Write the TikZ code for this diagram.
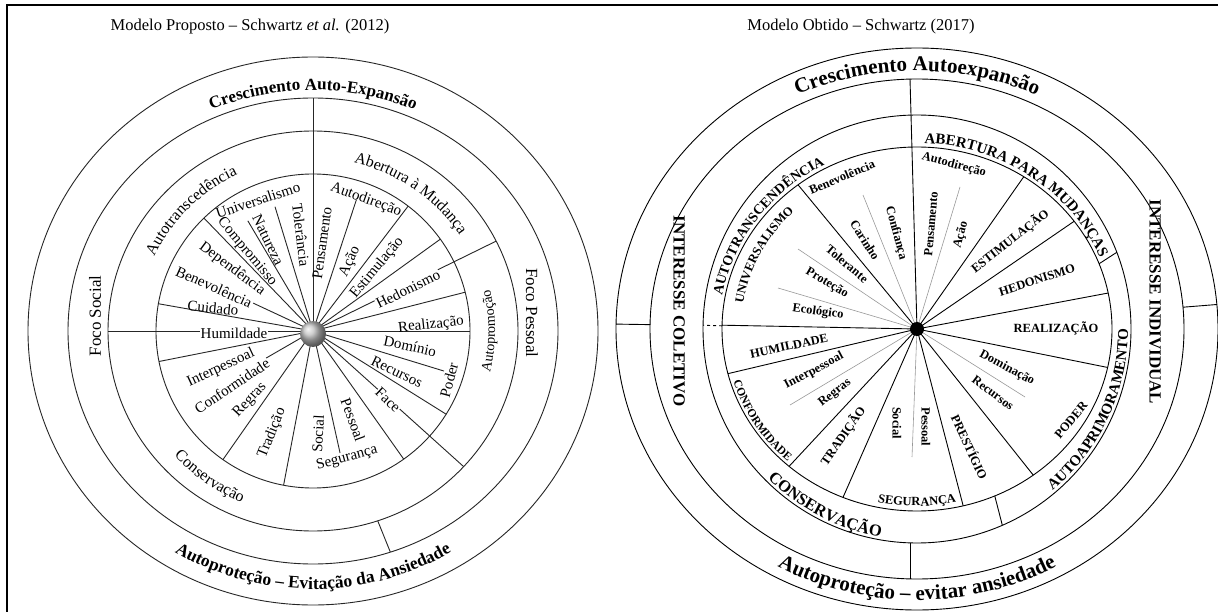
\documentclass[tikz,border=0pt]{standalone}
\usepackage{fontspec}
\setmainfont{Liberation Serif}
\usetikzlibrary{decorations.text}
\newcommand{\fs}[1]{\fontsize{#1}{#1}\selectfont}
\begin{document}
\begin{tikzpicture}[x=1pt,y=-1pt,
  ring/.style={line width=0.9pt,black!85},
  spk/.style={line width=0.9pt,black!85},
  gspk/.style={line width=0.6pt,black!40},
  lab/.style={inner sep=0.5pt,font=\fs{15}},
  rlab/.style={inner sep=0.5pt,font=\bfseries\fs{12.5}},
  arctext/.style={decorate,decoration={text along path,text align=center,text={#1}}},
]
\useasboundingbox (0,0) rectangle (1218,612);
\fill[white] (0,0) rectangle (1218,612);
% frame
\draw[line width=1.8pt] (7,612) -- (7,5) -- (1218,5);
\node[font=\fs{16.5}] (t1) at (250,27) {Modelo Proposto – Schwartz \textit{et al.} (2012)};
\node[font=\fs{16.5}] (t2) at (861,27) {Modelo Obtido – Schwartz (2017)};

%================ LEFT DIAGRAM ================
\begin{scope}[shift={(313,331)}]
 \draw[ring] (0,0) ellipse[x radius=285,y radius=274];
 \draw[ring] (0,0) ellipse[x radius=245,y radius=233];
 \draw[ring] (0,0) ellipse[x radius=205,y radius=200];
 \draw[ring] (0,0) circle[radius=157];
 \foreach \a in {52.7,35.8,14.3,0,-32,-54.7,-100.8,-125,-168.8,170,134}
   \draw[spk] (0,0) -- ({157*cos(\a)},{-157*sin(\a)});
 \foreach \a/\r in {71.7/138,-17/137,-77.5/125,120.6/128,107/130,155/66,-150/55}
   \draw[spk] (0,0) -- ({\r*cos(\a)},{-\r*sin(\a)});
 \foreach \a in {26.7,-42.7,180}
   \draw[spk] (0,0) -- ({205*cos(\a)},{-200*sin(\a)});
 \draw[spk] (0,0) -- (0,-233);
 \draw[spk] ({205*cos(-71.6)},{-200*sin(-71.6)}) -- ({245*cos(-71.6)},{-233*sin(-71.6)});
 \shade[ball color=black!25] (0,3) circle (13);
 % band texts
 \path[arctext={|\bfseries\fs{17}|Crescimento Auto-Expansão}] ({254*cos(135)},{-241*sin(135)}) arc[start angle=-135,end angle=-45,x radius=254,y radius=241];
 \path[arctext={|\bfseries\fs{17.5}|Autoproteção – Evitação da Ansiedade}] ({268*cos(212)},{-258*sin(212)}) arc[start angle=-212,end angle=-328,x radius=268,y radius=258];
 \path[arctext={|\fs{16}|Autotranscedência}] ({176*cos(170)},{-173*sin(170)}) arc[start angle=-170,end angle=-100,x radius=176,y radius=173];
 \path[arctext={|\fs{16}|Abertura à Mudança}] ({176*cos(90)},{-173*sin(90)}) arc[start angle=-90,end angle=-20,x radius=176,y radius=173];
 \path[arctext={|\fs{16}|Conservação}] ({188*cos(205)},{-185*sin(205)}) arc[start angle=-205,end angle=-265,x radius=188,y radius=185];
 \path[arctext={|\fs{14}|Autopromoção}] ({182*cos(-35)},{-180*sin(-35)}) arc[start angle=35,end angle=-35,x radius=182,y radius=180];
\end{scope}
\node[font=\fs{17},rotate=90] (fs) at (95,316) {Foco Social};
\node[font=\fs{17},rotate=-90] (fp) at (532,313) {Foco Pessoal};

\node[lab,rotate=18] (l1) at (258,200) {Universalismo};
\node[lab,rotate=-83] (l2) at (301,235) {Tolerância};
\node[lab,rotate=-64] (l3) at (268,240) {Natureza};
\node[lab,rotate=-50] (l4) at (247,252) {Compromisso};
\node[lab,rotate=-37] (l5) at (232,269) {Dependência};
\node[lab,rotate=-24,fill=white] (l6) at (214,287) {Benevolência};
\node[lab,rotate=-6] (l7) at (213,308) {Cuidado};
\node[lab,fill=white] (l8) at (234,333) {Humildade};
\node[lab,rotate=25] (l9) at (221,368) {Interpessoal};
\node[lab,rotate=34,fill=white] (l10) at (232,386) {Conformidade};
\node[lab,rotate=47] (l11) at (250,400) {Regras};
\node[lab,rotate=68] (l12) at (272,433) {Tradição};
\node[lab,rotate=87] (l13) at (318,434) {Social};
\node[lab,rotate=-70] (l14) at (353,420) {Pessoal};
\node[lab,rotate=15] (l15) at (347,458) {Segurança};
\node[lab,rotate=-43,fill=white] (l16) at (388,400) {Face};
\node[lab,rotate=-26] (l17) at (397,372) {Recursos};
\node[lab,rotate=75] (l18) at (449,380) {Poder};
\node[lab,rotate=-12] (l19) at (410,346) {Domínio};
\node[lab,rotate=6] (l20) at (431,325) {Realização};
\node[lab,rotate=26,fill=white] (l21) at (408,289) {Hedonismo};
\node[lab,rotate=50] (l22) at (377,268) {Estimulação};
\node[lab,rotate=66] (l23) at (350,262) {Ação};
\node[lab,rotate=82] (l24) at (322,243) {Pensamento};
\node[lab,rotate=-20] (l25) at (366,200) {Autodireção};

%================ RIGHT DIAGRAM ================
\begin{scope}[shift={(917,329)}]
 \draw[ring,black] (0,0) ellipse[x radius=301,y radius=281];
 \draw[ring,black] (0,0) ellipse[x radius=267,y radius=250];
 \draw[ring,black] (0,0) circle[radius=214];
 \draw[ring,black] (0,0) ellipse[x radius=195,y radius=182];
 \foreach \p in {(-54,-134),(-119,-80),(-139,-41),(43,-142),(108,68),(-5,128),(-127,76)}
   \draw[gspk] (0,0) -- \p;
 \foreach \a in {127.6,56.8,36.3,11.4,-12.2,-53.4,-76.3,-112.3,229,194.2,178.8}
   \draw[spk,black] (0,0) -- ({195*cos(\a)},{-182*sin(\a)});
 \draw[spk,black] (0,0) -- (-7,-250);
 \draw[spk,black] ({195*cos(21)},{-182*sin(21)}) -- ({214*cos(21)},{-214*sin(21)});
 \draw[spk,black] ({195*cos(-66.5)},{-182*sin(-66.5)}) -- ({214*cos(-66.5)},{-214*sin(-66.5)});
 \draw[spk,black,dashed] ({195*cos(179)},{-182*sin(179)}) -- ({214*cos(179)},{-214*sin(179)});
 \draw[spk,black] (-7,214) -- (-7,250);
 \draw[spk,black] ({267*cos(179)},{-250*sin(179)}) -- ({301*cos(179)},{-281*sin(179)});
 \draw[spk,black] ({267*cos(5)},{-250*sin(5)}) -- ({301*cos(5)},{-281*sin(5)});
 \fill (0,0) circle (7);
 % band texts
 \path[arctext={|\bfseries\fs{21}|Crescimento Autoexpansão}] ({283*cos(135)},{-258*sin(135)}) arc[start angle=-135,end angle=-45,x radius=283,y radius=258];
 \path[arctext={|\bfseries\fs{21}|Autoproteção – evitar ansiedade}] ({289*cos(212)},{-271*sin(212)}) arc[start angle=-212,end angle=-328,x radius=289,y radius=271];
 \path[arctext={|\bfseries\fs{15}|ABERTURA PARA MUDANÇAS}] ({198*cos(95)},{-186*sin(95)}) arc[start angle=-95,end angle=-15,x radius=198,y radius=186];
 \path[arctext={|\bfseries\fs{14}|AUTOTRANSCENDÊNCIA}] ({198*cos(180)},{-186*sin(180)}) arc[start angle=-180,end angle=-108,x radius=198,y radius=186];
 \path[arctext={|\bfseries\fs{16.5}|CONSERVAÇÃO}] ({211*cos(205)},{-211*sin(205)}) arc[start angle=-205,end angle=-280,x radius=211,y radius=211];
 \path[arctext={|\bfseries\fs{15}|AUTOAPRIMORAMENTO}] ({211*cos(-62)},{-211*sin(-62)}) arc[start angle=62,end angle=-12,x radius=211,y radius=211];
 \path[arctext={|\bfseries\fs{12.5}|UNIVERSALISMO}] ({176*cos(188)},{-164*sin(188)}) arc[start angle=-188,end angle=-118,x radius=176,y radius=164];
 \path[arctext={|\bfseries\fs{11.5}|CONFORMIDADE}] ({192*cos(180)},{-179*sin(180)}) arc[start angle=-180,end angle=-244,x radius=192,y radius=179];
 \path[arctext={|\bfseries\fs{12.5}|SEGURANÇA}] ({190*cos(245)},{-177*sin(245)}) arc[start angle=-245,end angle=-295,x radius=190,y radius=177];
\end{scope}
\node[font=\bfseries\fs{17},rotate=-90] (ic) at (679,311) {INTERESSE COLETIVO};
\node[font=\bfseries\fs{17},rotate=-90] (ii) at (1155,302) {INTERESSE INDIVIDUAL};

\node[rlab,rotate=23] (r1) at (842,177) {Benevolência};
\node[rlab,rotate=-58] (r2) at (865,240) {Carinho};
\node[rlab,rotate=-75] (r3) at (896,233) {Confiança};
\node[rlab,rotate=-40] (r4) at (847,264) {Tolerante};
\node[rlab,rotate=-30] (r5) at (827,283) {Proteção};
\node[rlab,rotate=-8] (r6) at (818,312) {Ecológico};
\node[rlab,rotate=85] (r7) at (931,224) {Pensamento};
\node[rlab,rotate=75] (r8) at (961,235) {Ação};
\node[rlab,rotate=-15] (r9) at (954,165) {Autodireção};
\node[rlab,rotate=38] (r10) at (1010,241) {ESTIMULAÇÃO};
\node[rlab,rotate=18] (r11) at (1037,280) {HEDONISMO};
\node[rlab] (r12) at (1056,328) {REALIZAÇÃO};
\node[rlab,rotate=-28] (r13) at (1007,368) {Dominação};
\node[rlab,rotate=-37] (r14) at (993,393) {Recursos};
\node[rlab,rotate=50] (r15) at (1071,420) {PODER};
\node[rlab,rotate=-65] (r16) at (970,447) {PRESTÍGIO};
\node[rlab,rotate=-90] (r17) at (926,427) {Pessoal};
\node[rlab,rotate=-90] (r18) at (897,423) {Social};
\node[rlab,rotate=55] (r19) at (843,436) {TRADIÇÃO};
\node[rlab,rotate=38] (r20) at (835,393) {Regras};
\node[rlab,rotate=28] (r21) at (814,371) {Interpessoal};
\node[rlab,rotate=12] (r22) at (789,346) {HUMILDADE};
\end{tikzpicture}
\end{document}
